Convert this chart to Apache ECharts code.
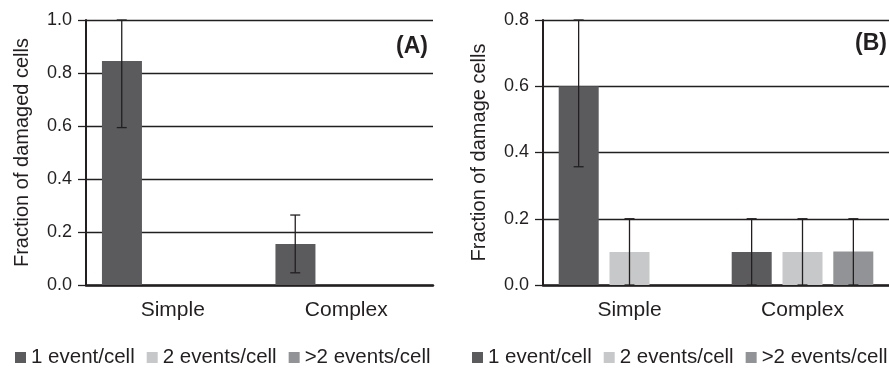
<!DOCTYPE html>
<html>
<head>
<meta charset="utf-8">
<script src="https://cdn.jsdelivr.net/npm/echarts@6/dist/echarts.min.js"></script>
<style>
  html, body { margin: 0; padding: 0; background: #fff; }
  #chart { width: 889px; height: 370px; }
</style>
</head>
<body>
<div id="chart"></div>
<script>
  // categories and legend names
  var categories = ['Simple', 'Complex']
  var seriesNames = ['1 event/cell', '2 events/cell', '>2 events/cell']

  // panel A: fraction of damaged cells
  var aOne = [0.845, 0.155]
  var aTwo = [0, 0]
  var aMore = [0, 0]
  var aOneErr = [[0.594, 1.0], [0.046, 0.264]]

  // panel B: fraction of damage cells
  var bOne = [0.6, 0.1]
  var bTwo = [0.1, 0.1]
  var bMore = [0, 0.101]
  var bOneErr = [[0.357, 0.8], [0, 0.2]]
  var bTwoErr = [[0, 0.2], [0, 0.2]]
  var bMoreErr = [null, [0, 0.2]]

  var COLORS = ['#5b5b5d', '#c7c8ca', '#929396']
  var INK = '#231f20'
  var FONT = 'Liberation Sans, Arial, sans-serif'

  var chart = echarts.init(document.getElementById('chart'))

  function barSeries(name, data, idx) {
    return {
      name: name,
      type: 'bar',
      xAxisIndex: idx,
      yAxisIndex: idx,
      barWidth: 40,
      barGap: '27%',
      data: data,
      itemStyle: { color: COLORS[seriesNames.indexOf(name)] },
      z: 2
    }
  }

  function errSeries(errs, slot, idx) {
    var data = []
    for (var i = 0; i < errs.length; i++) {
      if (errs[i]) {
        data.push([i, errs[i][0], errs[i][1]])
      }
    }
    return {
      type: 'custom',
      xAxisIndex: idx,
      yAxisIndex: idx,
      z: 5,
      silent: true,
      encode: { x: 0, y: [1, 2] },
      data: data,
      renderItem: function (params, api) {
        var band = api.size([1, 0])[0]
        var dx = (slot - 1) * band * 0.294
        var lo = api.coord([api.value(0), api.value(1)])
        var hi = api.coord([api.value(0), api.value(2)])
        var x = lo[0] + dx
        var style = { stroke: INK, lineWidth: 1.3 }
        return {
          type: 'group',
          children: [
            { type: 'line', shape: { x1: x, y1: lo[1], x2: x, y2: hi[1] }, style: style },
            { type: 'line', shape: { x1: x - 5, y1: lo[1], x2: x + 5, y2: lo[1] }, style: style },
            { type: 'line', shape: { x1: x - 5, y1: hi[1], x2: x + 5, y2: hi[1] }, style: style }
          ]
        }
      }
    }
  }

  function yAxis(idx, max, name) {
    return {
      gridIndex: idx,
      type: 'value',
      min: 0,
      max: max,
      interval: 0.2,
      name: name,
      nameLocation: 'middle',
      nameGap: 54,
      nameTextStyle: { fontSize: 20, color: INK, fontFamily: FONT },
      axisLine: { show: true, lineStyle: { color: INK, width: 2 } },
      axisTick: { show: true, length: 8, lineStyle: { color: INK, width: 1.3 } },
      axisLabel: {
        margin: 14,
        fontSize: 18,
        color: INK,
        fontFamily: FONT,
        formatter: function (v) { return v.toFixed(1) }
      },
      splitLine: { show: true, lineStyle: { color: INK, width: 1.3 } }
    }
  }

  function xAxis(idx) {
    return {
      gridIndex: idx,
      type: 'category',
      data: categories,
      axisLine: { lineStyle: { color: INK, width: 2.5 } },
      axisTick: { show: false },
      axisLabel: { margin: 15, fontSize: 21, color: INK, fontFamily: FONT }
    }
  }

  function legend(left) {
    return {
      left: left,
      top: 347,
      width: 440,
      padding: 0,
      icon: 'rect',
      itemWidth: 11,
      itemHeight: 11,
      itemGap: 12,
      data: seriesNames,
      textStyle: { fontSize: 20.5, color: INK, fontFamily: FONT }
    }
  }

  chart.setOption({
    animation: false,
    title: [{
      text: '(A)',
      right: 461,
      top: 35,
      padding: 0,
      textStyle: { fontSize: 23, fontWeight: 'bold', color: INK, fontFamily: FONT }
    }, {
      text: '(B)',
      right: 2,
      top: 32,
      padding: 0,
      textStyle: { fontSize: 23, fontWeight: 'bold', color: INK, fontFamily: FONT }
    }],
    legend: [legend(15), legend(472)],
    grid: [
      { left: 86, top: 20, width: 347, height: 265 },
      { left: 543, top: 20, width: 346, height: 265 }
    ],
    xAxis: [xAxis(0), xAxis(1)],
    yAxis: [yAxis(0, 1.0, 'Fraction of damaged cells'), yAxis(1, 0.8, 'Fraction of damage cells')],
    series: [
      barSeries(seriesNames[0], aOne, 0),
      barSeries(seriesNames[1], aTwo, 0),
      barSeries(seriesNames[2], aMore, 0),
      errSeries(aOneErr, 0, 0),
      barSeries(seriesNames[0], bOne, 1),
      barSeries(seriesNames[1], bTwo, 1),
      barSeries(seriesNames[2], bMore, 1),
      errSeries(bOneErr, 0, 1),
      errSeries(bTwoErr, 1, 1),
      errSeries(bMoreErr, 2, 1)
    ]
  })
</script>
</body>
</html>
